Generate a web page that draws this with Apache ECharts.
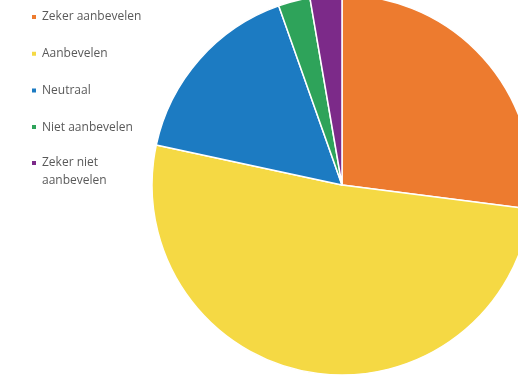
<!DOCTYPE html>
<html>
<head>
<meta charset="utf-8">
<script src="https://cdn.jsdelivr.net/npm/echarts@6/dist/echarts.min.js"></script>
<style>
  html, body { margin: 0; padding: 0; background: #ffffff; }
  #chart { width: 518px; height: 378px; }
</style>
</head>
<body>
<div id="chart"></div>
<script>
// Answer categories and number of respondents per answer
const categories = ['Zeker aanbevelen', 'Aanbevelen', 'Neutraal', 'Niet aanbevelen', 'Zeker niet aanbevelen'];
const counts = [10, 19, 6, 1, 1];
const colors = ['#ED7B2F', '#F5D944', '#1C7BC2', '#2EA35A', '#7C2A89'];

const chart = echarts.init(document.getElementById('chart'), null, { renderer: 'canvas' });

const legendText = {
  color: '#595959',
  fontFamily: 'Open Sans',
  fontSize: 12,
  lineHeight: 18
};

chart.setOption({
  animation: false,
  color: colors,
  legend: [
    {
      orient: 'vertical',
      left: 30,
      top: 8,
      padding: 0,
      itemWidth: 6,
      itemHeight: 6,
      itemGap: 18.7,
      icon: 'rect',
      selectedMode: false,
      textStyle: legendText,
      data: categories.slice(0, 4)
    },
    {
      // Wrapped label; the leading empty line keeps the marker beside the first text line
      orient: 'vertical',
      left: 30,
      top: 136,
      padding: 0,
      itemWidth: 6,
      itemHeight: 6,
      icon: 'rect',
      selectedMode: false,
      textStyle: legendText,
      formatter: function () { return ' \nZeker niet\naanbevelen'; },
      data: categories.slice(4)
    }
  ],
  series: [{
    type: 'pie',
    center: [342, 185],
    radius: 190,
    startAngle: 90,
    clockwise: true,
    silent: true,
    label: { show: false },
    labelLine: { show: false },
    itemStyle: { borderColor: '#ffffff', borderWidth: 1.5 },
    data: categories.map(function (name, i) { return { name: name, value: counts[i] }; })
  }]
});
</script>
</body>
</html>
